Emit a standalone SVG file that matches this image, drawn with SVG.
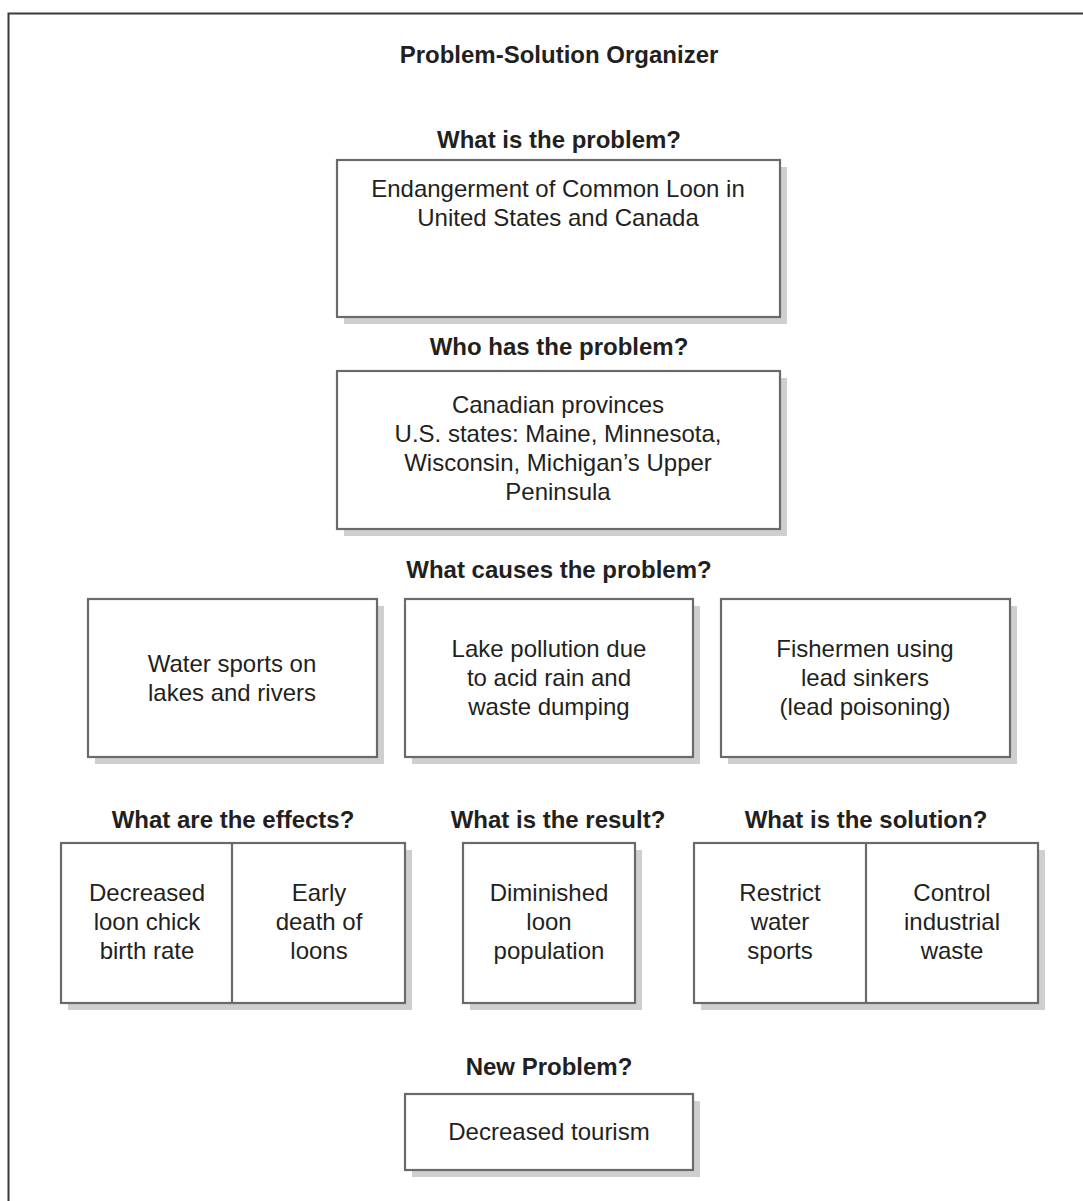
<svg xmlns="http://www.w3.org/2000/svg" width="1083" height="1201" viewBox="0 0 1083 1201">
<style>
.frame{fill:none;stroke:#3a3a3a;stroke-width:2}
.box{fill:#fff;stroke:#6a6a6a;stroke-width:2.2}
.shadow{fill:#cfcfd1}
.div{stroke:#6a6a6a;stroke-width:2.2}
.h{font-family:"Liberation Sans",Arial,sans-serif;font-weight:bold;font-size:24px;fill:#231f20;text-anchor:middle}
.t{font-family:"Liberation Sans",Arial,sans-serif;font-size:24px;fill:#231f20;text-anchor:middle}
</style>
<rect x="0" y="0" width="1083" height="1201" fill="#fff"/>
<rect class="frame" x="8.5" y="13.5" width="1100" height="1250"/>
<text class="h" x="559" y="63">Problem-Solution Organizer</text>

<g id="problem">
<text class="h" x="559" y="148">What is the problem?</text>
<rect class="shadow" x="344" y="167" width="443" height="157"/>
<rect class="box" x="337" y="160" width="443" height="157"/>
<text class="t" x="558" y="197">Endangerment of Common Loon in</text>
<text class="t" x="558" y="226">United States and Canada</text>
</g>

<g id="who">
<text class="h" x="559" y="355">Who has the problem?</text>
<rect class="shadow" x="344" y="378" width="443" height="158"/>
<rect class="box" x="337" y="371" width="443" height="158"/>
<text class="t" x="558" y="413">Canadian provinces</text>
<text class="t" x="558" y="442">U.S. states: Maine, Minnesota,</text>
<text class="t" x="558" y="471">Wisconsin, Michigan’s Upper</text>
<text class="t" x="558" y="500">Peninsula</text>
</g>

<g id="causes">
<text class="h" x="559" y="578">What causes the problem?</text>
<rect class="shadow" x="95" y="606" width="289" height="158"/>
<rect class="box" x="88" y="599" width="289" height="158"/>
<text class="t" x="232" y="672">Water sports on</text>
<text class="t" x="232" y="701">lakes and rivers</text>
<rect class="shadow" x="412" y="606" width="288" height="158"/>
<rect class="box" x="405" y="599" width="288" height="158"/>
<text class="t" x="549" y="657">Lake pollution due</text>
<text class="t" x="549" y="686">to acid rain and</text>
<text class="t" x="549" y="715">waste dumping</text>
<rect class="shadow" x="728" y="606" width="289" height="158"/>
<rect class="box" x="721" y="599" width="289" height="158"/>
<text class="t" x="865" y="657">Fishermen using</text>
<text class="t" x="865" y="686">lead sinkers</text>
<text class="t" x="865" y="715">(lead poisoning)</text>
</g>

<g id="effects">
<text class="h" x="233" y="828">What are the effects?</text>
<rect class="shadow" x="68" y="850" width="344" height="160"/>
<rect class="box" x="61" y="843" width="344" height="160"/>
<line class="div" x1="232" y1="843" x2="232" y2="1003"/>
<text class="t" x="147" y="901">Decreased</text>
<text class="t" x="147" y="930">loon chick</text>
<text class="t" x="147" y="959">birth rate</text>
<text class="t" x="319" y="901">Early</text>
<text class="t" x="319" y="930">death of</text>
<text class="t" x="319" y="959">loons</text>
</g>

<g id="result">
<text class="h" x="558" y="828">What is the result?</text>
<rect class="shadow" x="470" y="850" width="172" height="160"/>
<rect class="box" x="463" y="843" width="172" height="160"/>
<text class="t" x="549" y="901">Diminished</text>
<text class="t" x="549" y="930">loon</text>
<text class="t" x="549" y="959">population</text>
</g>

<g id="solution">
<text class="h" x="866" y="828">What is the solution?</text>
<rect class="shadow" x="701" y="850" width="344" height="160"/>
<rect class="box" x="694" y="843" width="344" height="160"/>
<line class="div" x1="866" y1="843" x2="866" y2="1003"/>
<text class="t" x="780" y="901">Restrict</text>
<text class="t" x="780" y="930">water</text>
<text class="t" x="780" y="959">sports</text>
<text class="t" x="952" y="901">Control</text>
<text class="t" x="952" y="930">industrial</text>
<text class="t" x="952" y="959">waste</text>
</g>

<g id="new-problem">
<text class="h" x="549" y="1075">New Problem?</text>
<rect class="shadow" x="412" y="1101" width="288" height="76"/>
<rect class="box" x="405" y="1094" width="288" height="76"/>
<text class="t" x="549" y="1140">Decreased tourism</text>
</g>

<g id="connectors"></g>
</svg>
